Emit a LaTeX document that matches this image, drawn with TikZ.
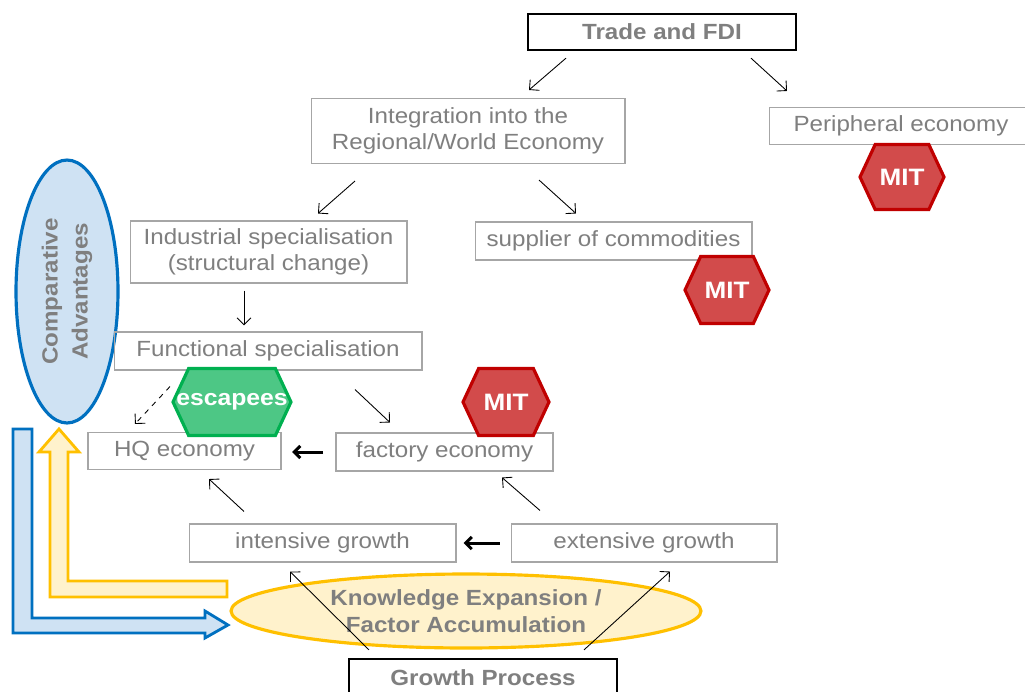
\documentclass[tikz,border=0pt]{standalone}
\usepackage{fontspec}
\setmainfont{Liberation Sans}[FakeStretch=1.1]
\usetikzlibrary{arrows.meta,shapes.geometric,shapes.symbols}

\definecolor{txtgray}{HTML}{7F7F7F}
\definecolor{boxgray}{HTML}{A6A6A6}
\definecolor{mitfill}{HTML}{D24B4B}
\definecolor{mitline}{HTML}{C00000}
\definecolor{escfill}{HTML}{4DC785}
\definecolor{escline}{HTML}{00B050}
\definecolor{yelfill}{HTML}{FFF2CC}
\definecolor{yelline}{HTML}{FFC000}
\definecolor{bluefill}{HTML}{CFE2F3}
\definecolor{blueline}{HTML}{0070C0}

\tikzset{
    box/.style={draw=boxgray, line width=0.6pt, text=txtgray, align=center,
        inner sep=0pt, font=\fontsize{12.5}{15}\selectfont},
    keybox/.style={draw=black, line width=1.3pt, text=txtgray, inner sep=0pt,
        font=\fontsize{12.5}{15}\selectfont\bfseries},
    hexa/.style={signal, signal to=west and east, signal pointer angle=130,
        line width=1.8pt, inner sep=0pt, text=white,
        font=\fontsize{13.5}{15}\selectfont\bfseries},
    mit/.style={hexa, draw=mitline, fill=mitfill},
    arr/.style={-{Straight Barb[length=4pt,width=8pt]}, line width=0.5pt},
    fatarr/.style={-{Straight Barb[length=3.5pt,width=7pt]}, line width=1.7pt}
}

\begin{document}
\begin{tikzpicture}[x=0.02cm, y=-0.02cm]
    \fill[white] (0,0) rectangle (1025,691);
    \useasboundingbox (0,0) rectangle (1025,691);

    % Big L-shaped arrows
    \draw[blueline, fill=bluefill, line width=1.6pt, line join=miter]
        (13,429) -- (32,429) -- (32,618) -- (205,618) -- (205,611) -- (228,625)
        -- (205,638) -- (205,633) -- (13,633) -- cycle;
    \draw[yelline, fill=yelfill, line width=1.6pt, line join=miter]
        (50,597) -- (50,452) -- (39,452) -- (59,429) -- (79,452) -- (68,452)
        -- (68,581) -- (227,581) -- (227,597) -- cycle;

    % Ellipses
    \node[ellipse, draw=blueline, fill=bluefill, line width=1.8pt,
        minimum width=5.26cm, minimum height=2.04cm, rotate=90, text=txtgray,
        align=center, font=\fontsize{12.5}{17}\selectfont\bfseries]
        (compadv) at (67,291.5) {Comparative\\Advantages};
    \node[ellipse, draw=yelline, fill=yelfill, line width=1.8pt,
        minimum width=9.4cm, minimum height=1.48cm, text=txtgray, align=center,
        inner sep=0pt, font=\fontsize{12.5}{15}\selectfont\bfseries]
        (knowledge) at (466,611) {Knowledge Expansion /\\Factor Accumulation};

    % Boxes
    \node[keybox, minimum width=5.36cm, minimum height=0.72cm] (trade) at (662,32) {Trade and FDI};
    \node[box, minimum width=6.28cm, minimum height=1.3cm] (integ) at (468,131)
        {Integration into the\\Regional/World Economy};
    \node[box, minimum width=5.28cm, minimum height=0.74cm] (periph) at (901,126) {Peripheral economy};
    \node[box, minimum width=5.54cm, minimum height=1.24cm] (indus) at (268.5,252)
        {Industrial specialisation\\(structural change)};
    \node[box, minimum width=5.54cm, minimum height=0.76cm] (supplier) at (613.5,241) {supplier of commodities};
    \node[box, minimum width=6.16cm, minimum height=0.76cm] (func) at (268,351) {Functional specialisation};
    \node[box, minimum width=3.86cm, minimum height=0.74cm] (hq) at (184.5,451) {HQ economy};
    \node[box, minimum width=4.34cm, minimum height=0.76cm] (factory) at (444.5,452) {factory economy};
    \node[box, minimum width=5.34cm, minimum height=0.76cm] (intensive) at (322.5,543) {intensive growth};
    \node[box, minimum width=5.32cm, minimum height=0.76cm] (extensive) at (644,543) {extensive growth};
    \node[keybox, minimum width=5.36cm, minimum height=0.76cm] (growth) at (483,678) {Growth Process};

    % Hexagons
    \node[mit, minimum width=1.68cm, minimum height=1.3cm] (mitperiph) at (902,177) {MIT};
    \node[mit, minimum width=1.68cm, minimum height=1.34cm] (mitsupp) at (727,290) {MIT};
    \node[mit, minimum width=1.72cm, minimum height=1.34cm] (mitfact) at (506,402) {MIT};
    \node[hexa, draw=escline, fill=escfill, minimum width=2.36cm, minimum height=1.34cm,
        inner xsep=-14pt, font=\fontsize{12.8}{15}\selectfont\bfseries]
        (escapees) at (232,402) {escapees};

    % Connectors
    \draw[arr] ([shift={(-96,7)}]trade.south) -- ([shift={(61,-8)}]integ.north);
    \draw[arr] ([shift={(89,7)}]trade.south) -- ([shift={(-114,-16)}]periph.north);
    \draw[arr] ([shift={(-113,17)}]integ.south) -- ([shift={(49.5,-7)}]indus.north);
    \draw[arr] ([shift={(71,16)}]integ.south) -- ([shift={(-37.5,-8)}]supplier.north);
    \draw[arr] ([shift={(-24.5,7)}]indus.south) -- ([shift={(-24,-6)}]func.north);
    \draw[arr, dashed] ([shift={(-98,16)}]func.south) -- ([shift={(-49.5,-8)}]hq.north);
    \draw[arr] ([shift={(87,19)}]func.south) -- ([shift={(-54.5,-10)}]factory.north);
    \draw[arr] ([shift={(-78.5,-12)}]intensive.north) -- ([shift={(24.5,9)}]hq.south);
    \draw[arr] ([shift={(-104,-13)}]extensive.north) -- ([shift={(57.5,6)}]factory.south);
    \draw[arr] ([shift={(-114,-8)}]growth.north) -- ([shift={(-32.5,9)}]intensive.south);
    \draw[arr] ([shift={(101,-8)}]growth.north) -- ([shift={(26,9)}]extensive.south);
    \draw[fatarr] ([xshift=-7]factory.west) -- ([xshift=6]hq.east |- factory.west);
    \draw[fatarr] ([xshift=-6]extensive.west) -- ([xshift=4]intensive.east);
\end{tikzpicture}
\end{document}
